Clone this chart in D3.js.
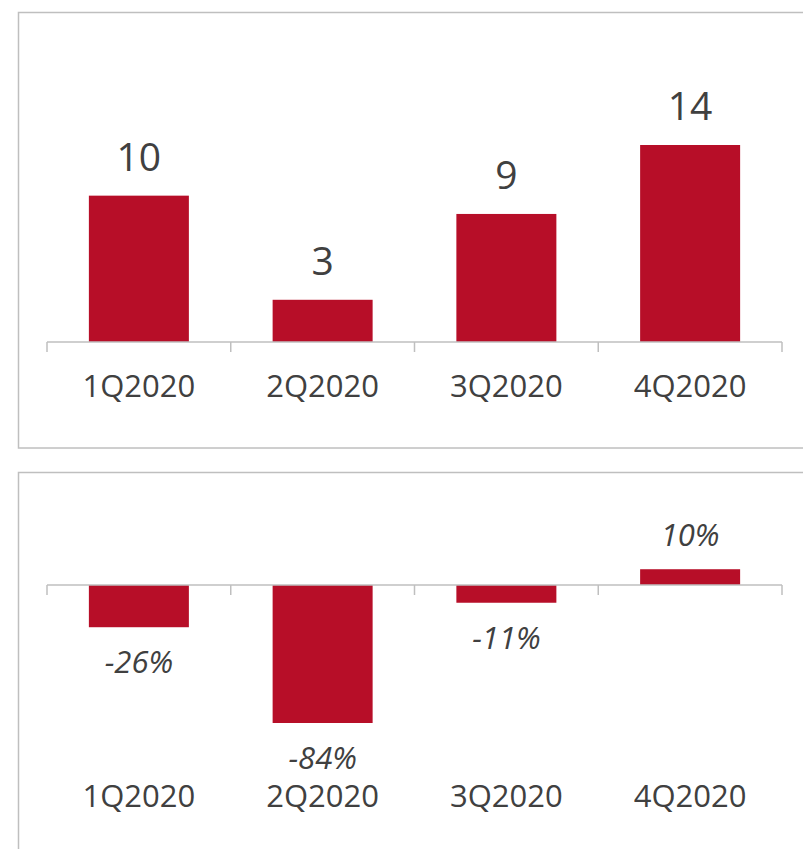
<!DOCTYPE html>
<html>
<head>
<meta charset="utf-8">
<script src="https://cdn.jsdelivr.net/npm/d3@7"></script>
<style>
  html, body { margin: 0; padding: 0; background: #fff; }
  svg { display: block; }
  text { font-family: "Open Sans", "Noto Sans", sans-serif; fill: #404040; }
</style>
</head>
<body>
<script>
// ---- data ----
const categories = ["1Q2020", "2Q2020", "3Q2020", "4Q2020"];
const volumeValues = [10.4, 3.0, 9.1, 14.0];      // top panel
const changeValues = [-25.7, -84.0, -10.8, 9.6];   // bottom panel, %

// ---- layout ----
const W = 803, H = 849;
const barColor = "#B70E28";
const lineColor = "#BFBFBF";

const svg = d3.select("body").append("svg")
  .attr("width", W).attr("height", H);

// panel frames
svg.append("rect")
  .attr("x", 18.5).attr("y", 12.5).attr("width", 820).attr("height", 435.5)
  .attr("fill", "none").attr("stroke", lineColor).attr("stroke-width", 1.5);
svg.append("rect")
  .attr("x", 18.5).attr("y", 472.5).attr("width", 820).attr("height", 420)
  .attr("fill", "none").attr("stroke", lineColor).attr("stroke-width", 1.5);

const p = 0.4558;
const x = d3.scaleBand().domain(categories).range([47, 782])
  .paddingInner(p).paddingOuter(p / 2);
const step = x.step();

function drawAxis(y0) {
  const g = svg.append("g");
  g.append("line")
    .attr("x1", 47).attr("x2", 782).attr("y1", y0).attr("y2", y0)
    .attr("stroke", lineColor).attr("stroke-width", 1.5);
  const bounds = d3.range(categories.length + 1).map(i => 47 + i * step);
  g.selectAll("line.tick").data(bounds).join("line")
    .attr("class", "tick")
    .attr("x1", d => d).attr("x2", d => d)
    .attr("y1", y0).attr("y2", y0 + 10)
    .attr("stroke", lineColor).attr("stroke-width", 1.5);
}

const fmt = d => String(Math.round(d));

// ---- top panel ----
const yTop = d3.scaleLinear().domain([0, 14]).range([342, 145]);
svg.append("g").selectAll("rect").data(volumeValues).join("rect")
  .attr("x", (d, i) => x(categories[i]))
  .attr("width", x.bandwidth())
  .attr("y", d => yTop(d))
  .attr("height", d => yTop(0) - yTop(d))
  .attr("fill", barColor);
drawAxis(342);
svg.append("g").selectAll("text").data(volumeValues).join("text")
  .attr("x", (d, i) => x(categories[i]) + x.bandwidth() / 2)
  .attr("y", d => yTop(d) - 25)
  .attr("text-anchor", "middle")
  .attr("font-size", 39)
  .text(d => fmt(d));
svg.append("g").selectAll("text").data(categories).join("text")
  .attr("x", d => x(d) + x.bandwidth() / 2)
  .attr("y", 397)
  .attr("text-anchor", "middle")
  .attr("font-size", 31)
  .text(d => d);

// ---- bottom panel ----
const yBot = d3.scaleLinear().domain([-84, 0]).range([723, 585]);
svg.append("g").selectAll("rect").data(changeValues).join("rect")
  .attr("x", (d, i) => x(categories[i]))
  .attr("width", x.bandwidth())
  .attr("y", d => Math.min(yBot(d), yBot(0)))
  .attr("height", d => Math.abs(yBot(d) - yBot(0)))
  .attr("fill", barColor);
drawAxis(585);
svg.append("g").selectAll("text").data(changeValues).join("text")
  .attr("x", (d, i) => x(categories[i]) + x.bandwidth() / 2)
  .attr("y", d => d < 0 ? yBot(d) + 46 : yBot(d) - 23)
  .attr("text-anchor", "middle")
  .attr("font-size", 31)
  .attr("font-style", "italic")
  .text(d => fmt(d) + "%");
svg.append("g").selectAll("text").data(categories).join("text")
  .attr("x", d => x(d) + x.bandwidth() / 2)
  .attr("y", 807)
  .attr("text-anchor", "middle")
  .attr("font-size", 31)
  .text(d => d);
</script>
</body>
</html>
